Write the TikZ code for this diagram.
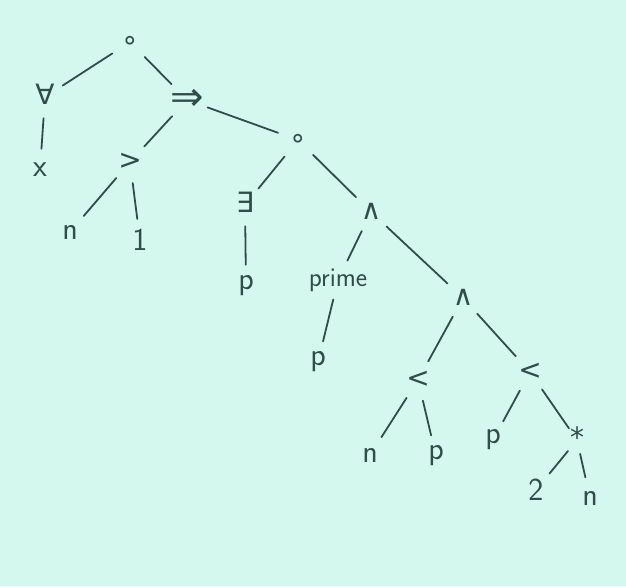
\documentclass[tikz,border=0pt]{standalone}
\usepackage{fontspec}
\newfontfamily\symfont{DejaVu Sans}
\begin{document}
\definecolor{paper}{RGB}{212,247,238}
\definecolor{ink}{RGB}{48,78,72}
\begin{tikzpicture}[x=1pt,y=-1pt,
  lbl/.style={text=ink,shape=circle,minimum size=38pt,inner sep=0pt,font=\sffamily\fontsize{32}{36}\selectfont},
  sym/.style={font=\symfont\fontsize{28}{32}\selectfont,text height=16pt,text depth=2pt},
  big/.style={font=\symfont\fontsize{40}{44}\selectfont},
  small/.style={shape=rectangle,minimum size=0pt,inner sep=6pt,font=\sffamily\fontsize{27}{30}\selectfont},
  edge/.style={draw=ink,line width=1.8pt,line cap=round,shorten >=2pt,shorten <=2pt}]
\fill[paper] (0,0) rectangle (626,586);
\useasboundingbox (0,0) rectangle (626,586);
\node[lbl,sym] (r) at (130,42) {∘};
\node[lbl,sym] (fa) at (45,97) {∀};
\node[lbl] (x) at (40,170) {x};
\node[lbl,big] (imp) at (187,100) {⇒};
\node[lbl,sym] (gt) at (130,162) {>};
\node[lbl] (n1) at (70,232) {n};
\node[lbl] (one) at (140,240) {1};
\node[lbl,sym] (c2) at (298,140) {∘};
\node[lbl,sym] (ex) at (245,205) {∃};
\node[lbl] (p1) at (246,286) {p};
\node[lbl,sym] (and1) at (371,212) {∧};
\node[lbl,small] (prime) at (338,280) {prime};
\node[lbl] (p2) at (318,362) {p};
\node[lbl,sym] (and2) at (463,298) {∧};
\node[lbl,sym] (lt1) at (418,380) {<};
\node[lbl] (n2) at (370,455) {n};
\node[lbl] (p3) at (436,456) {p};
\node[lbl,sym] (lt2) at (530,372) {<};
\node[lbl] (p4) at (493,440) {p};
\node[lbl,sym,minimum size=24pt] (st) at (577,440) {*};
\node[lbl] (two) at (536,490) {2};
\node[lbl] (n3) at (590,498) {n};
\draw[edge] (r) -- (fa);
\draw[edge] (r) -- (imp);
\draw[edge] (fa) -- (x);
\draw[edge] (imp) -- (gt);
\draw[edge] (gt) -- (n1);
\draw[edge] (gt) -- (one);
\draw[edge] (imp) -- (c2);
\draw[edge] (c2) -- (ex);
\draw[edge] (c2) -- (and1);
\draw[edge] (ex) -- (p1);
\draw[edge] (and1) -- (prime);
\draw[edge] (and1) -- (and2);
\draw[edge] (prime) -- (p2);
\draw[edge] (and2) -- (lt1);
\draw[edge] (and2) -- (lt2);
\draw[edge] (lt1) -- (n2);
\draw[edge] (lt1) -- (p3);
\draw[edge] (lt2) -- (p4);
\draw[edge] (lt2) -- (st);
\draw[edge] (st) -- (two);
\draw[edge] (st) -- (n3);
\end{tikzpicture}
\end{document}
